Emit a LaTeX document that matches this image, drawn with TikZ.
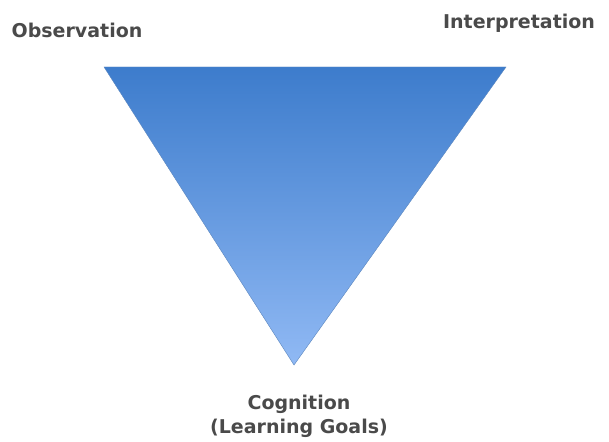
\documentclass[tikz,border=0pt]{standalone}
\usepackage{fontspec}
\setmainfont{DejaVu Sans}
\begin{document}
\begin{tikzpicture}[x=1pt,y=-1pt,
  lbl/.style={font=\bfseries\fontsize{19}{23}\selectfont, text=textgray, anchor=base, inner sep=0pt}]
\definecolor{textgray}{HTML}{4A4A4A}
\definecolor{tritop}{HTML}{3D7CCC}
\definecolor{tribot}{HTML}{90B9F4}
\definecolor{triedge}{HTML}{5B86BE}
\useasboundingbox (0,0) rectangle (609,441);
\coordinate (tl) at (104,67);
\coordinate (tr) at (506,67);
\coordinate (bt) at (294,365);
\shade[top color=tritop, bottom color=tribot, draw=triedge, line width=0.4pt, line join=miter]
  (tl) -- (tr) -- (bt) -- cycle;
\node[lbl] (obs) at (77,38) {Observation};
\node[lbl] (int) at (519,29) {Interpretation};
\node[lbl] (cog) at (299,409) {Cognition};
\node[lbl] (goals) at (299,433) {(Learning Goals)};
\end{tikzpicture}
\end{document}
